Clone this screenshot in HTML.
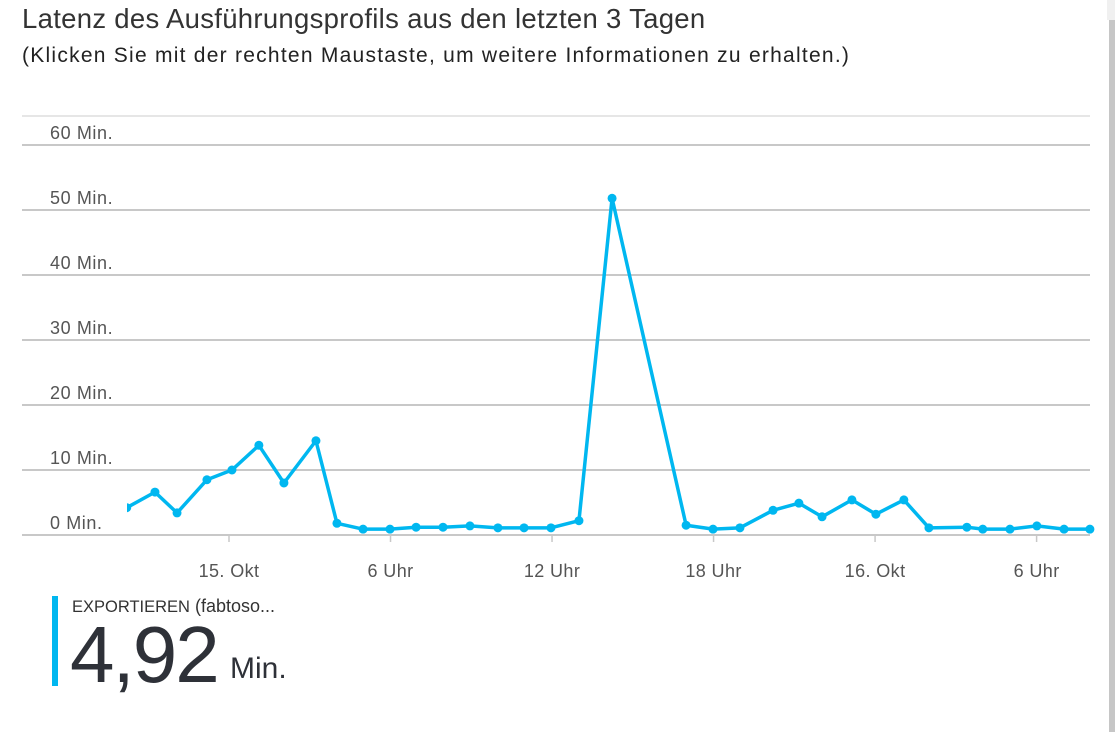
<!DOCTYPE html>
<html><head><meta charset="utf-8"><style>
body{margin:0;width:1115px;height:732px;background:#fff;overflow:hidden;font-family:"Segoe UI","Liberation Sans",sans-serif;position:relative}
.t{position:absolute;white-space:nowrap}
</style></head><body>
<div class="t" style="left:22px;top:3px;font-size:27.5px;letter-spacing:0.3px;color:#333">Latenz des Ausführungsprofils aus den letzten 3 Tagen</div>
<div class="t" style="left:22px;top:44px;font-size:21px;letter-spacing:1.25px;color:#222">(Klicken Sie mit der rechten Maustaste, um weitere Informationen zu erhalten.)</div>
<div style="position:absolute;left:1107px;top:0;width:8px;height:20px;background:#f0f0f0"></div>
<div style="position:absolute;left:1109px;top:20px;width:6px;height:712px;background:#c6c6c6"></div>
<svg id="c" width="1115" height="600" style="position:absolute;left:0;top:0"></svg>
<div style="position:absolute;left:52px;top:596px;width:6px;height:90px;background:#00b7f0"></div>
<div class="t" style="left:72px;top:596px;font-size:18px;color:#333"><span style="font-size:16.5px">EXPORTIEREN</span> (fabtoso...</div>
<div class="t" style="left:70px;top:609px;font-size:80px;color:#2e3138;letter-spacing:-2px">4,92</div>
<div class="t" style="left:230px;top:652px;font-size:30px;color:#2e3138">Min.</div>
<script>
const hours=[-3.8,-2.75,-1.93,-0.82,0.11,1.11,2.04,3.23,4.01,4.98,5.98,6.95,7.95,8.95,9.99,10.96,11.96,13.0,14.23,16.98,17.98,18.98,20.21,21.17,22.03,23.14,24.03,25.07,26.0,27.41,28.0,29.01,30.01,31.02,31.98];
const values=[4.2,6.6,3.4,8.5,10,13.8,8,14.5,1.8,0.9,0.9,1.2,1.2,1.4,1.1,1.1,1.1,2.2,51.8,1.5,0.9,1.1,3.8,4.9,2.8,5.4,3.2,5.4,1.1,1.2,0.9,0.9,1.4,0.9,0.9];
const yTicks=[0,10,20,30,40,50,60];
const yLabels=["0 Min.","10 Min.","20 Min.","30 Min.","40 Min.","50 Min.","60 Min."];
const xTicks=[0,6,12,18,24,30];
const xLabels=["15. Okt","6 Uhr","12 Uhr","18 Uhr","16. Okt","6 Uhr"];
const NS="http://www.w3.org/2000/svg",svg=document.getElementById('c');
const X=h=>229+h*26.92, Y=v=>535-v*6.5;
function mk(t,a){const e=document.createElementNS(NS,t);for(const k in a)e.setAttribute(k,a[k]);svg.appendChild(e);return e;}
let g=mk('line',{x1:22,x2:1090,y1:116,y2:116,stroke:'#ccc','stroke-width':1});


yTicks.forEach((v,i)=>{
 const l=mk('line',{x1:22,x2:1090,y1:Y(v),y2:Y(v),stroke:'#c8c8c8','stroke-width':2});
 
 
 const t=mk('text',{x:50,y:Y(v)-6,'font-size':18,'letter-spacing':0.6,fill:'#555','font-family':'Segoe UI, Liberation Sans, sans-serif'});
 t.textContent=yLabels[i];
 
 
});
xTicks.forEach((h,i)=>{
 const l=mk('line',{x1:X(h),x2:X(h),y1:536,y2:542,stroke:'#c8c8c8','stroke-width':1.5});
 
 
 const t=mk('text',{x:X(h),y:577,'font-size':18,'letter-spacing':0.4,fill:'#555','text-anchor':'middle','font-family':'Segoe UI, Liberation Sans, sans-serif'});
 t.textContent=xLabels[i];
 
 
});
mk('clipPath',{id:'cp'}).appendChild(document.createElementNS(NS,'rect'));
const r=svg.querySelector('#cp rect');r.setAttribute('x',127);r.setAttribute('y',100);r.setAttribute('width',970);r.setAttribute('height',450);
const gp=mk('g',{'clip-path':'url(#cp)'});


const p=document.createElementNS(NS,'polyline');
p.setAttribute('points',hours.map((h,i)=>X(h)+','+Y(values[i])).join(' '));
p.setAttribute('fill','none');p.setAttribute('stroke','#00b7f0');p.setAttribute('stroke-width',3.5);p.setAttribute('stroke-linejoin','round');


gp.appendChild(p);
hours.forEach((h,i)=>{
 const c=document.createElementNS(NS,'circle');
 c.setAttribute('cx',X(h));c.setAttribute('cy',Y(values[i]));c.setAttribute('r',4.5);c.setAttribute('fill','#00b7f0');
 
 
 gp.appendChild(c);
});
</script>
</body></html>
